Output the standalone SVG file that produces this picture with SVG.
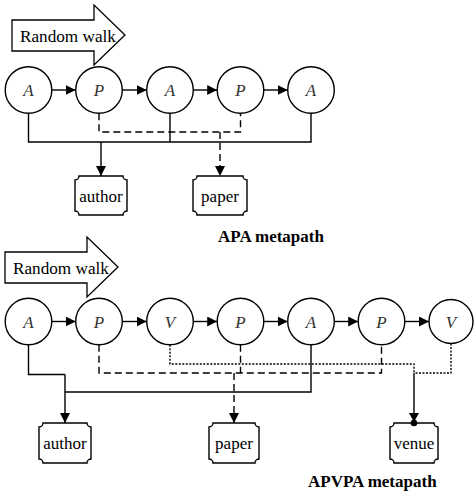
<svg xmlns="http://www.w3.org/2000/svg" width="474" height="492" viewBox="0 0 474 492">
  <defs>
    <marker id="tri" viewBox="0 0 10 10" refX="10" refY="5" markerWidth="10" markerHeight="10" markerUnits="userSpaceOnUse" orient="auto">
      <path d="M0,0 L10,5 L0,10 Z" fill="#000"/>
    </marker>
    <marker id="tridot" viewBox="0 0 14 10" refX="13" refY="5" markerWidth="14" markerHeight="10" markerUnits="userSpaceOnUse" orient="auto">
      <path d="M0,0 L9,5 L0,10 Z" fill="#000"/>
      <circle cx="10" cy="5" r="3.3" fill="#000"/>
    </marker>
  </defs>
  <style>
    .node { fill: #fff; stroke: #000; stroke-width: 1.4; }
    .var { font-family: "Liberation Serif", "DejaVu Serif", serif; font-style: italic; font-size: 17px; fill: #333; text-anchor: middle; }
    .lbl { font-family: "Liberation Serif", "DejaVu Serif", serif; font-size: 17px; fill: #000; text-anchor: middle; }
    .walklbl { font-family: "Liberation Serif", "DejaVu Serif", serif; font-size: 17.2px; fill: #000; }
    .title { font-family: "Liberation Serif", "DejaVu Serif", serif; font-size: 17px; font-weight: bold; fill: #000; }
    .walk { fill: #fff; stroke: #000; stroke-width: 1.3; }
    .solid { fill: none; stroke: #000; stroke-width: 1.4; }
    .dash { fill: none; stroke: #000; stroke-width: 1.4; stroke-dasharray: 7 4; }
    .dot { fill: none; stroke: #000; stroke-width: 1.4; stroke-dasharray: 2 1.5; }
  </style>

  <!-- upper walk: A-P-A-P-A -->
  <g id="walk1">
    <path class="walk" d="M12,20 H94 V5 L125,35 L94,65 V51 H12 Z"/>
    <text class="walklbl" x="20" y="41.5">Random walk</text>
  </g>
  <g id="t-a1"><circle class="node" cx="28.5" cy="90" r="23.3"/><text class="var" x="28.5" y="96">A</text></g>
  <g id="t-p1"><circle class="node" cx="99" cy="90" r="23.3"/><text class="var" x="99" y="96">P</text></g>
  <g id="t-a2"><circle class="node" cx="170" cy="90" r="23.3"/><text class="var" x="170" y="96">A</text></g>
  <g id="t-p2"><circle class="node" cx="240.5" cy="90" r="23.3"/><text class="var" x="240.5" y="96">P</text></g>
  <g id="t-a3"><circle class="node" cx="311" cy="90" r="23.3"/><text class="var" x="311" y="96">A</text></g>

  <g id="t-author">
    <path class="node" d="M79,176 H123 A4,4 0 0 0 127,180 V211 A4,4 0 0 0 123,215 H79 A4,4 0 0 0 75,211 V180 A4,4 0 0 0 79,176 Z"/>
    <text class="lbl" x="101" y="202">author</text>
  </g>
  <g id="t-paper">
    <path class="node" d="M197,176 H243 A4,4 0 0 0 247,180 V211 A4,4 0 0 0 243,215 H197 A4,4 0 0 0 193,211 V180 A4,4 0 0 0 197,176 Z"/>
    <text class="lbl" x="220" y="202">paper</text>
  </g>
  <text class="title" x="218" y="242">APA metapath</text>

  <!-- lower walk: A-P-V-P-A-P-V -->
  <g id="walk2">
    <path class="walk" d="M5,252 H87 V237 L118,267 L87,297 V283 H5 Z"/>
    <text class="walklbl" x="13" y="273.5">Random walk</text>
  </g>
  <g id="b-a1"><circle class="node" cx="28.5" cy="321.5" r="23.3"/><text class="var" x="28.5" y="327.5">A</text></g>
  <g id="b-p1"><circle class="node" cx="99" cy="321.5" r="23.3"/><text class="var" x="99" y="327.5">P</text></g>
  <g id="b-v1"><circle class="node" cx="170" cy="321.5" r="23.3"/><text class="var" x="170" y="327.5">V</text></g>
  <g id="b-p2"><circle class="node" cx="240.5" cy="321.5" r="23.3"/><text class="var" x="240.5" y="327.5">P</text></g>
  <g id="b-a2"><circle class="node" cx="311" cy="321.5" r="23.3"/><text class="var" x="311" y="327.5">A</text></g>
  <g id="b-p3"><circle class="node" cx="381.5" cy="321.5" r="23.3"/><text class="var" x="381.5" y="327.5">P</text></g>
  <g id="b-v2"><circle class="node" cx="451" cy="321.5" r="22"/><text class="var" x="451" y="327.5">V</text></g>

  <g id="b-author">
    <path class="node" d="M43,423 H87 A4,4 0 0 0 91,427 V459 A4,4 0 0 0 87,463 H43 A4,4 0 0 0 39,459 V427 A4,4 0 0 0 43,423 Z"/>
    <text class="lbl" x="65" y="449">author</text>
  </g>
  <g id="b-paper">
    <path class="node" d="M213,423 H255 A4,4 0 0 0 259,427 V459 A4,4 0 0 0 255,463 H213 A4,4 0 0 0 209,459 V427 A4,4 0 0 0 213,423 Z"/>
    <text class="lbl" x="234" y="449">paper</text>
  </g>
  <g id="b-venue">
    <path class="node" d="M394,423 H434 A4,4 0 0 0 438,427 V459 A4,4 0 0 0 434,463 H394 A4,4 0 0 0 390,459 V427 A4,4 0 0 0 394,423 Z"/>
    <text class="lbl" x="414" y="449">venue</text>
  </g>
  <text class="title" x="308" y="487">APVPA metapath</text>

  <g id="connectors">
    <!-- upper walk steps -->
    <line class="solid" x1="51.8" y1="90" x2="75.7" y2="90" marker-end="url(#tri)"/>
    <line class="solid" x1="122.3" y1="90" x2="146.7" y2="90" marker-end="url(#tri)"/>
    <line class="solid" x1="193.3" y1="90" x2="217.2" y2="90" marker-end="url(#tri)"/>
    <line class="solid" x1="263.8" y1="90" x2="287.7" y2="90" marker-end="url(#tri)"/>
    <!-- upper grouping -->
    <path class="solid" d="M28.5,113.3 V142 H311 V113.3 M170,113.3 V142"/>
    <path class="dash" d="M99,113.3 V132 H240.5 V113.3"/>
    <line class="solid" x1="101" y1="142" x2="101" y2="176" marker-end="url(#tri)"/>
    <line class="dash" x1="220" y1="132" x2="220" y2="176" marker-end="url(#tri)"/>

    <!-- lower walk steps -->
    <line class="solid" x1="51.8" y1="321.5" x2="75.7" y2="321.5" marker-end="url(#tri)"/>
    <line class="solid" x1="122.3" y1="321.5" x2="146.7" y2="321.5" marker-end="url(#tri)"/>
    <line class="solid" x1="193.3" y1="321.5" x2="217.2" y2="321.5" marker-end="url(#tri)"/>
    <line class="solid" x1="263.8" y1="321.5" x2="287.7" y2="321.5" marker-end="url(#tri)"/>
    <line class="solid" x1="334.3" y1="321.5" x2="358.2" y2="321.5" marker-end="url(#tri)"/>
    <line class="solid" x1="404.8" y1="321.5" x2="429" y2="321.5" marker-end="url(#tri)"/>
    <!-- lower grouping: authors -->
    <path class="solid" d="M28.5,344.8 V374.5 H65 M311,344.8 V392 H65"/>
    <line class="solid" x1="65" y1="374.5" x2="65" y2="423" marker-end="url(#tri)"/>
    <!-- papers -->
    <path class="dash" d="M99,344.8 V373 H381.5 V344.8 M240.5,344.8 V373"/>
    <line class="dash" x1="234" y1="373" x2="234" y2="423" marker-end="url(#tri)"/>
    <!-- venues -->
    <path class="dot" d="M170,344.8 V364 H414 V373 M451,343.5 V373 H414"/>
    <line class="solid" x1="414" y1="373" x2="414" y2="426" marker-end="url(#tridot)"/>
  </g>
</svg>
